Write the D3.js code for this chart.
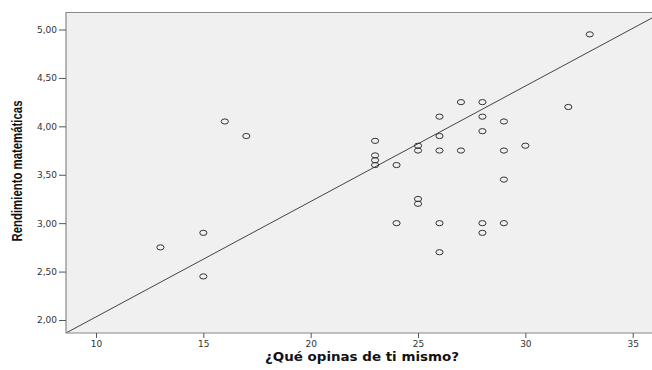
<!DOCTYPE html>
<html>
<head>
<meta charset="utf-8">
<script src="https://cdn.jsdelivr.net/npm/d3@7"></script>
<style>
body { margin: 0; background: #fff; }
svg { display: block; }
</style>
</head>
<body>
<svg id="chart" width="652" height="370"></svg>
<script>

// data
var opinion = [13, 15, 15, 16, 17, 23, 23, 23, 23, 24, 24, 25, 25, 25, 25,
               26, 26, 26, 26, 26, 27, 27, 28, 28, 28, 28, 28, 29, 29, 29, 29, 30, 32, 33];
var rendimiento = [2.75, 2.90, 2.45, 4.05, 3.90, 3.85, 3.70, 3.65, 3.60, 3.60, 3.00, 3.80, 3.75, 3.25, 3.20,
                   4.10, 3.90, 3.75, 3.00, 2.70, 4.25, 3.75, 4.25, 4.10, 3.95, 3.00, 2.90, 4.05, 3.75, 3.45, 3.00, 3.80, 4.20, 4.95];
var xTicks = [10, 15, 20, 25, 30, 35];
var yTicks = [2.0, 2.5, 3.0, 3.5, 4.0, 4.5, 5.0];
var fitLine = [0.840, 0.1192];   // intercept, slope

var svg = d3.select("#chart");

// plot box ("top" is taken by window.top, so use other names)
var p_left = 66, p_top = 12.5, p_bottom = 333, p_right = 700;

var x = d3.scaleLinear().domain([10, 35]).range([96, 632.7]);
var y = d3.scaleLinear().domain([2, 5]).range([320, 29.5]);

var fmt = function(d) { return d3.format(".2f")(d).replace(".", ","); };

// panel
svg.append("rect")
    .attr("x", p_left).attr("y", p_top)
    .attr("width", p_right - p_left).attr("height", p_bottom - p_top)
    .attr("fill", "#f0f0f0");

svg.append("clipPath").attr("id", "clip")
    .append("rect")
    .attr("x", p_left).attr("y", p_top)
    .attr("width", p_right - p_left).attr("height", p_bottom - p_top);

// regression line
var x0 = x.invert(p_left), x1 = x.invert(p_right);
svg.append("line")
    .attr("clip-path", "url(#clip)")
    .attr("x1", x(x0)).attr("y1", y(fitLine[0] + fitLine[1] * x0))
    .attr("x2", x(x1)).attr("y2", y(fitLine[0] + fitLine[1] * x1))
    .attr("stroke", "#444").attr("stroke-width", 1);

// points
svg.append("g").selectAll("ellipse")
    .data(opinion)
    .enter().append("ellipse")
    .attr("cx", function(d) { return x(d); })
    .attr("cy", function(d, i) { return y(rendimiento[i]); })
    .attr("rx", 3.6).attr("ry", 2.6)
    .attr("fill", "none")
    .attr("stroke", "#333")
    .attr("stroke-width", 1);

// border (top, left, bottom)
svg.append("path")
    .attr("d", "M" + p_right + "," + p_top + "H" + p_left + "V" + p_bottom + "H" + p_right)
    .attr("fill", "none").attr("stroke", "#888").attr("stroke-width", 1.2);

// axes
var xAxis = svg.append("g")
    .attr("transform", "translate(0," + p_bottom + ")")
    .call(d3.axisBottom(x).tickValues(xTicks).tickSize(5).tickPadding(3));

var yAxis = svg.append("g")
    .attr("transform", "translate(" + p_left + ",0)")
    .call(d3.axisLeft(y).tickValues(yTicks).tickSize(7).tickPadding(2).tickFormat(fmt));

[xAxis, yAxis].forEach(function(a) {
    a.select(".domain").remove();
    a.selectAll("line").attr("stroke", "#555");
    a.selectAll("text")
        .attr("fill", "#333")
        .style("font-family", "DejaVu Sans, sans-serif")
        .style("font-size", "9px");
});

// titles
svg.append("text")
    .attr("x", 362).attr("y", 361)
    .attr("text-anchor", "middle")
    .attr("textLength", 194)
    .attr("lengthAdjust", "spacingAndGlyphs")
    .style("font-family", "DejaVu Sans, sans-serif")
    .style("font-weight", "bold")
    .style("font-size", "11.5px")
    .attr("fill", "#111")
    .text("¿Qué opinas de ti mismo?");

svg.append("text")
    .attr("transform", "translate(22,171) rotate(-90)")
    .attr("text-anchor", "middle")
    .attr("textLength", 141)
    .attr("lengthAdjust", "spacingAndGlyphs")
    .style("font-family", "'Liberation Sans', Arial, sans-serif")
    .style("font-weight", "bold")
    .style("font-size", "14.5px")
    .attr("fill", "#111")
    .text("Rendimiento matemáticas");

</script>
</body>
</html>
